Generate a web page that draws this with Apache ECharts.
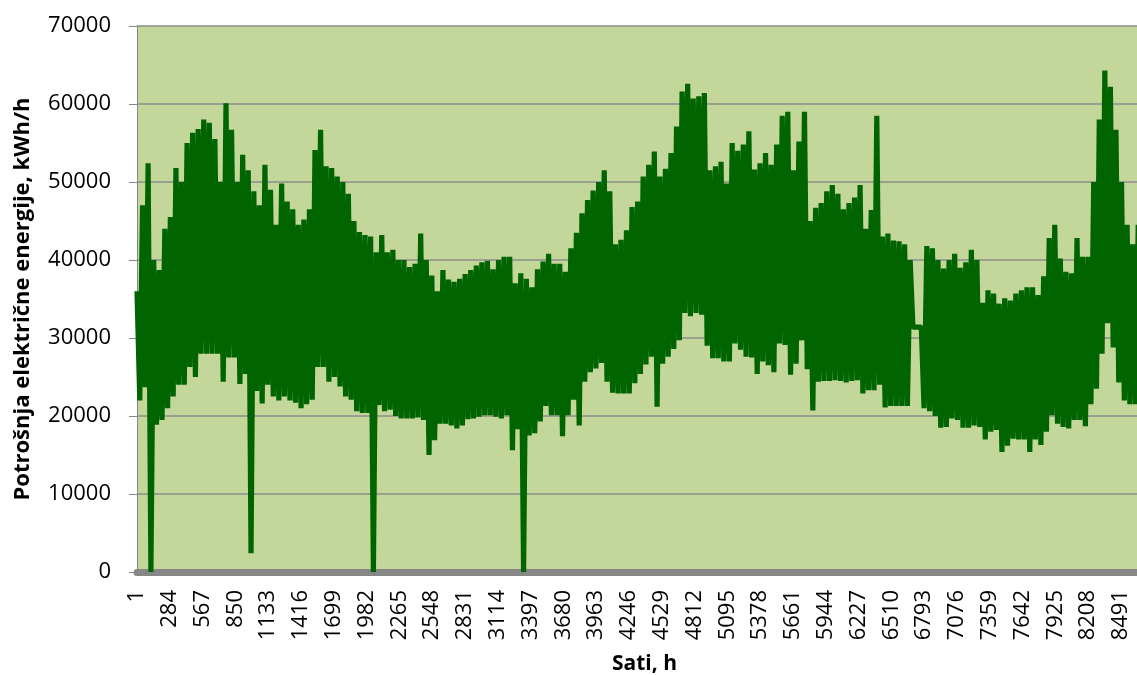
<!DOCTYPE html>
<html>
<head>
<meta charset="utf-8">
<title>Potrošnja električne energije</title>
<script src="https://cdn.jsdelivr.net/npm/echarts@6/dist/echarts.min.js"></script>
<style>
  html, body { margin: 0; padding: 0; background: #ffffff; }
  #chart { width: 1137px; height: 675px; }
</style>
</head>
<body>
<div id="chart"></div>
<script>
// razmak uzoraka (sati); vrh dana i dno dana, očitano sa slike
var korak = 48;

var vrhovi = [
  36000, 47000, 52400, 40000, 38700, 44000, 45500, 51800, 50000, 55000,
  56300, 56800, 58000, 57600, 55500, 50000, 60100, 56700, 50000, 53500,
  51500, 48800, 47000, 52200, 49000, 44500, 49800, 47500, 46500, 44500,
  45200, 46500, 54100, 56700, 52000, 51800, 50700, 50000, 48500, 45000,
  43600, 43200, 43000, 41000, 43200, 41000, 41300, 40000, 40000, 39100,
  39500, 43400, 40000, 38000, 36000, 38700, 37500, 37200, 37600, 38200,
  38700, 39300, 39700, 39900, 38800, 40000, 40400, 40400, 37000, 38300,
  37600, 36500, 38800, 39800, 40800, 39500, 39500, 38500, 41500, 43500,
  46000, 47700, 48900, 50000, 51500, 48800, 42000, 42600, 43800, 46800,
  47500, 50700, 52200, 53900, 50700, 51700, 53700, 57100, 61600, 62600,
  60700, 61000, 61400, 51500, 52000, 52600, 49800, 55000, 54000, 54800,
  56500, 51600, 52400, 53700, 52200, 54800, 58500, 59000, 51500, 55200,
  59000, 45000, 46700, 47300, 48800, 49600, 48500, 46500, 47300, 48000,
  49600, 44000, 46400, 58500, 43000, 43400, 42500, 42400, 42000, 40000,
  31400, 31400, 41800, 41500, 40000, 38900, 40000, 40800, 39000, 39700,
  41300, 40000, 34500, 36100, 35700, 34400, 35100, 34800, 35700, 36100,
  36500, 36500, 35500, 37900, 42800, 44500, 40200, 38500, 38300, 42800,
  40400, 40400, 50000, 58000, 64300, 62200, 56700, 50000, 44500, 42000,
  44500, 43000, 42000
];

var dolovi = [
  22000, 23700, 0, 18900, 19500, 21000, 22500, 24000, 24000, 26300,
  25000, 28000, 28000, 28000, 28000, 24400, 27500, 27500, 24100, 25400,
  2400, 23200, 21600, 24000, 22500, 22000, 22500, 22000, 21700, 21000,
  21500, 22100, 26300, 26300, 24400, 25000, 23800, 22500, 22100, 20600,
  20400, 20400, 0, 21400, 20600, 20800, 20000, 19700, 19700, 19700,
  19800, 19500, 15000, 16900, 19000, 19000, 18800, 18400, 18800, 19600,
  19700, 19900, 20100, 20100, 19900, 19700, 20100, 15600, 18300, 0,
  17500, 17800, 19300, 21300, 20100, 20100, 17400, 20100, 22100, 18800,
  24400, 25600, 26100, 26800, 24400, 23000, 22900, 22900, 22900, 24200,
  25400, 26600, 27600, 21200, 26700, 27600, 28600, 29700, 33200, 32800,
  33200, 33000, 29000, 27400, 27400, 27000, 27000, 29300, 28500, 27600,
  27500, 25400, 27000, 26500, 25600, 29300, 29100, 25300, 26700, 29700,
  26000, 20700, 24400, 24500, 24500, 24600, 24500, 24300, 24500, 24600,
  22900, 23300, 23300, 24000, 21100, 21300, 21300, 21300, 21300, 31400,
  31400, 21000, 20600, 20000, 18500, 18600, 19700, 19500, 18500, 18500,
  18800, 18600, 17000, 18000, 18200, 15400, 16200, 17100, 17000, 17000,
  15400, 17000, 16300, 18000, 20100, 19000, 18600, 18400, 19500, 19500,
  18700, 21500, 23500, 28000, 31900, 28800, 24300, 22000, 21500, 21500,
  22000, 22500
];

var yTicks = [0, 70000, 10000]; // min, max, interval

var sati = [];
for (var h = 1; h <= 8760; h++) {
    sati.push(String(h));
}

var podaci = [];
for (var i = 0; i < vrhovi.length; i++) {
    podaci.push([i * korak, vrhovi[i]]);
    if (i < dolovi.length) {
        podaci.push([i * korak + korak / 2, dolovi[i]]);
    }
}

var myChart = echarts.init(document.getElementById('chart'), null, {renderer: 'canvas'});
var font = '"Open Sans", "DejaVu Sans", sans-serif';

var option = {
    animation: false,
    backgroundColor: '#ffffff',
    grid: {
        show: true,
        left: 137,
        top: 26,
        width: 1015,
        height: 546,
        outerBoundsMode: 'none',
        containLabel: false,
        backgroundColor: '#c4d79b',
        borderWidth: 0
    },
    xAxis: {
        type: 'category',
        data: sati,
        boundaryGap: false,
        offset: 4,
        name: 'Sati, h',
        nameLocation: 'middle',
        nameGap: 78,
        nameTextStyle: {
            fontFamily: font,
            fontWeight: 'bold',
            fontSize: 21,
            color: '#000000'
        },
        axisLine: {
            show: true,
            lineStyle: {color: '#878787', width: 7}
        },
        axisTick: {show: false},
        axisLabel: {
            interval: 282,
            rotate: 90,
            margin: 14,
            fontFamily: font,
            fontSize: 22,
            color: '#000000'
        },
        splitLine: {show: false}
    },
    yAxis: {
        type: 'value',
        min: yTicks[0],
        max: yTicks[1],
        interval: yTicks[2],
        name: 'Potrošnja električne energije, kWh/h',
        nameLocation: 'middle',
        nameGap: 103,
        nameTextStyle: {
            fontFamily: font,
            fontWeight: 'bold',
            fontSize: 22,
            color: '#000000'
        },
        axisLine: {
            show: true,
            lineStyle: {color: '#868686', width: 1}
        },
        axisTick: {
            show: true,
            length: 8,
            lineStyle: {color: '#868686'}
        },
        axisLabel: {
            margin: 26,
            fontFamily: font,
            fontSize: 22,
            color: '#000000',
            formatter: function (v) {
                return String(v);
            }
        },
        splitLine: {
            show: true,
            lineStyle: {color: '#8c8c8c', width: 1.5}
        }
    },
    series: [{
        name: 'Potrošnja',
        type: 'line',
        data: podaci,
        showSymbol: false,
        symbol: 'none',
        sampling: null,
        lineStyle: {
            color: '#006400',
            width: 5.2,
            join: 'bevel'
        },
        z: 3
    }]
};
myChart.setOption(option);
</script>
</body>
</html>
